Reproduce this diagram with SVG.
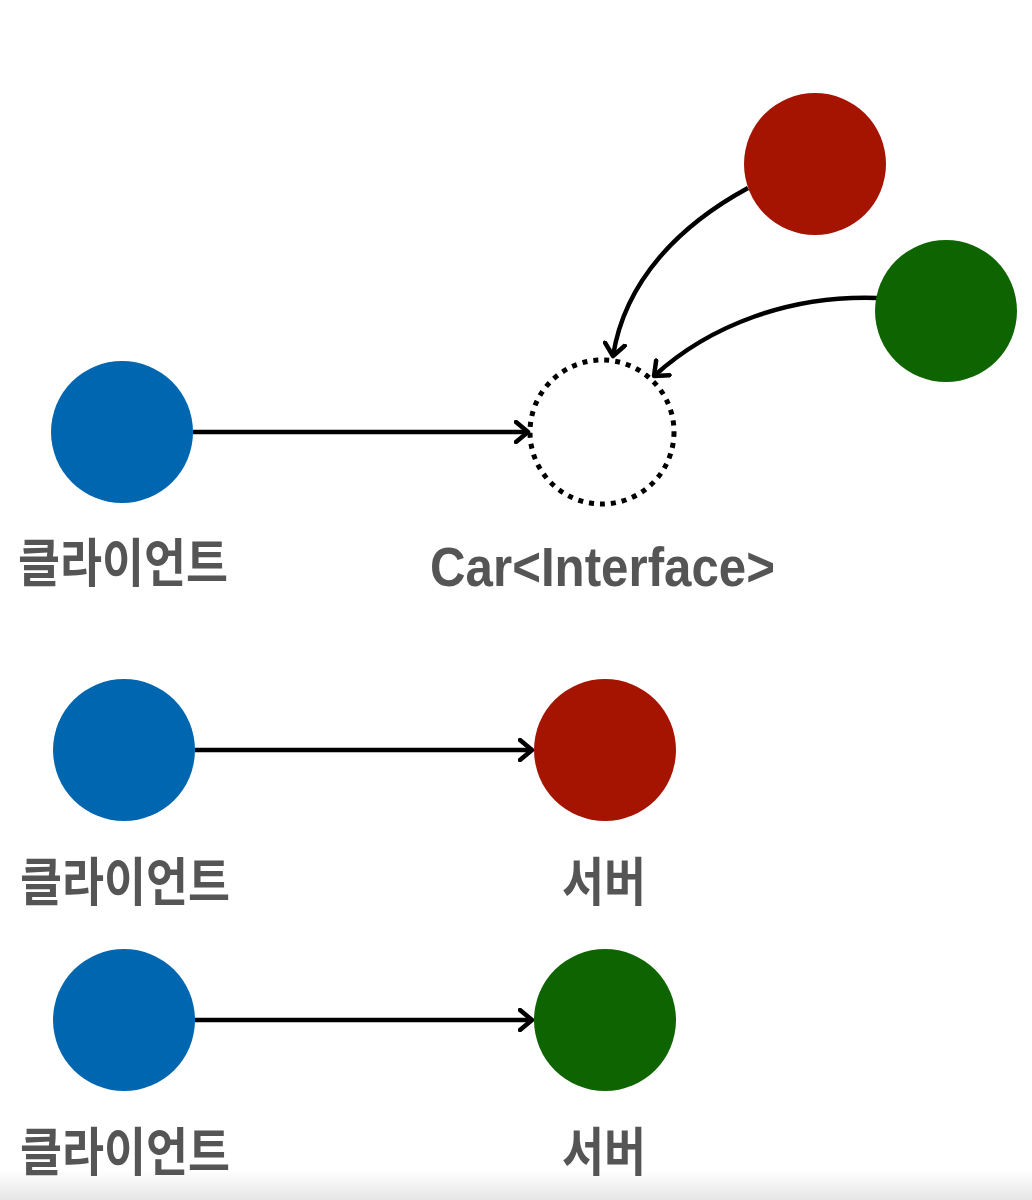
<svg xmlns="http://www.w3.org/2000/svg" width="1032" height="1200" viewBox="0 0 1032 1200">
<defs>
<marker id="arr" markerWidth="18" markerHeight="24" refX="14" refY="12" orient="auto" markerUnits="userSpaceOnUse">
<path d="M2,2 L14,12 L2,22" fill="none" stroke="#000" stroke-width="4.5" stroke-linecap="round" stroke-linejoin="round"/>
</marker>
<linearGradient id="bot" x1="0" y1="0" x2="0" y2="1">
<stop offset="0" stop-color="#fff"/>
<stop offset="1" stop-color="#e6e6e6"/>
</linearGradient>
<style>
.blue{fill:#0066B0}
.red{fill:#A51400}
.green{fill:#0E6500}
.lbl{font-family:"Noto Sans CJK KR","Liberation Sans",sans-serif;font-weight:bold;fill:#555;font-size:52px}
.en{font-family:"Liberation Sans",Arial,sans-serif;font-weight:bold;fill:#555;font-size:55px}
.con{fill:none;stroke:#000;stroke-width:4.5;marker-end:url(#arr)}
</style>
</defs>
<rect width="1032" height="1200" fill="#fff"/>
<rect x="0" y="1170" width="1032" height="30" fill="url(#bot)"/>

<g id="connectors">
<path class="con" d="M193,432 L528,432"/>
<path class="con" d="M748,188 C680,225 625,280 613,356"/>
<path class="con" d="M877,298 C790,295 710,325 654,376"/>
<path class="con" d="M195,750 L532,750"/>
<path class="con" d="M195,1020 L532,1020"/>
</g>

<g id="client1"><circle class="blue" cx="122" cy="432" r="71"/>
<text class="lbl" x="18" y="582" textLength="210" lengthAdjust="spacingAndGlyphs">클라이언트</text></g>
<g id="car-interface"><circle cx="602" cy="432" r="72" fill="none" stroke="#000" stroke-width="5" stroke-dasharray="5 6"/>
<text class="en" x="430" y="586" textLength="345" lengthAdjust="spacingAndGlyphs">Car&lt;Interface&gt;</text></g>
<g id="red-top"><circle class="red" cx="815" cy="164" r="71"/></g>
<g id="green-top"><circle class="green" cx="946" cy="311" r="71"/></g>

<g id="client2"><circle class="blue" cx="124" cy="750" r="71"/>
<text class="lbl" x="20" y="901" textLength="210" lengthAdjust="spacingAndGlyphs">클라이언트</text></g>
<g id="server-red"><circle class="red" cx="605" cy="750" r="71"/>
<text class="lbl" x="562" y="901" textLength="84" lengthAdjust="spacingAndGlyphs">서버</text></g>

<g id="client3"><circle class="blue" cx="124" cy="1020" r="71"/>
<text class="lbl" x="20" y="1171" textLength="210" lengthAdjust="spacingAndGlyphs">클라이언트</text></g>
<g id="server-green"><circle class="green" cx="605" cy="1020" r="71"/>
<text class="lbl" x="562" y="1171" textLength="84" lengthAdjust="spacingAndGlyphs">서버</text></g>
</svg>
